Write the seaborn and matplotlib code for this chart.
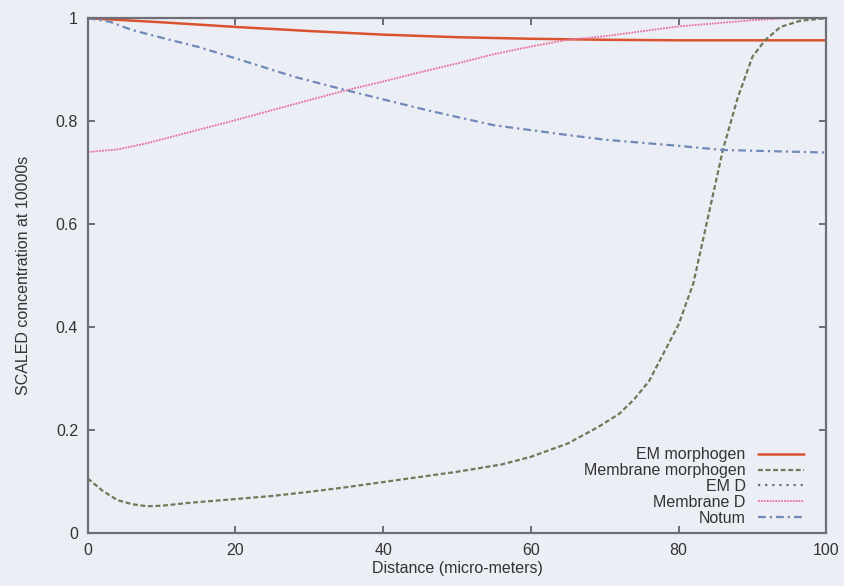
import matplotlib
matplotlib.use("Agg")
import matplotlib.pyplot as plt
import seaborn as sns
import pandas as pd

sns.set_theme(style="white")
plt.rcParams['font.family'] = ['Liberation Sans', 'DejaVu Sans']

# ---- data ----
em_morph_x = [0, 10, 20, 30, 40, 50, 60, 70, 80, 90, 100]
em_morph_y = [1.0, 0.992, 0.983, 0.975, 0.968, 0.963, 0.960, 0.958, 0.957, 0.957, 0.957]

mem_morph_x = [0, 2, 4, 6, 8, 10, 14, 20, 25, 30, 35, 42, 50, 56, 60, 65, 69, 72, 74, 76, 78,
               80, 82, 83.5, 84.5, 86, 88, 90, 91.7, 93.8, 96.5, 100]
mem_morph_y = [0.106, 0.082, 0.064, 0.056, 0.052, 0.053, 0.059, 0.066, 0.072, 0.080, 0.089, 0.103,
               0.119, 0.133, 0.148, 0.174, 0.205, 0.232, 0.26, 0.295, 0.35, 0.405, 0.485, 0.582,
               0.647, 0.744, 0.845, 0.925, 0.957, 0.983, 0.995, 1.0]

em_d_x = [0, 50, 100]
em_d_y = [1.0, 1.0, 1.0]

mem_d_x = [0, 4, 8, 12, 20, 29, 35, 40, 45, 50, 55, 60, 65, 70, 80, 90, 95, 100]
mem_d_y = [0.740, 0.745, 0.757, 0.772, 0.802, 0.837, 0.860, 0.877, 0.895, 0.912, 0.930, 0.945,
           0.958, 0.965, 0.984, 0.996, 1.0, 1.0]

notum_x = [0, 3, 6, 10, 15, 20, 28, 35, 46, 55, 65, 70, 80, 86, 100]
notum_y = [1.0, 0.993, 0.977, 0.962, 0.944, 0.922, 0.886, 0.860, 0.821, 0.792, 0.773, 0.764,
           0.752, 0.744, 0.739]

labels = ["EM morphogen", "Membrane morphogen", "EM D", "Membrane D", "Notum"]
x_ticks = [0, 20, 40, 60, 80, 100]
y_ticks = [0, 0.2, 0.4, 0.6, 0.8, 1]
y_tick_labels = ["0", "0.2", "0.4", "0.6", "0.8", "1"]

series = [
    (em_morph_x, em_morph_y, dict(color="#d9542e", lw=1.8, ls="-")),
    (mem_morph_x, mem_morph_y, dict(color="#6b7a58", lw=1.6, ls=(0, (2.2, 1.2)))),
    (em_d_x, em_d_y, dict(color="#6a6a84", lw=1.6, ls=(0, (1, 2.2)))),
    (mem_d_x, mem_d_y, dict(color="#e8709c", lw=1.3, ls=(0, (1, 0.6)))),
    (notum_x, notum_y, dict(color="#7088b8", lw=1.6, ls=(0, (3.5, 1.8, 1, 1.8)))),
]

FS = 11.5
bg = "#eceef6"
fig = plt.figure(figsize=(8.44, 5.86), dpi=100, facecolor=bg)
ax = fig.add_axes([0.104, 0.0904, 0.875, 0.8786])
ax.set_facecolor(bg)

for (xs, ys, st), lab in zip(series, labels):
    df = pd.DataFrame({"x": xs, "y": ys})
    sns.lineplot(data=df, x="x", y="y", ax=ax, label=lab, color=st["color"],
                 linewidth=st["lw"], linestyle=st["ls"], estimator=None, sort=True)

ax.set_xlim(0, 100)
ax.set_ylim(0, 1)
ax.set_xticks(x_ticks)
ax.set_xticklabels([str(t) for t in x_ticks])
ax.set_yticks(y_ticks)
ax.set_yticklabels(y_tick_labels)
ax.tick_params(direction="in", length=5, width=1.2, color="#555560",
               top=True, right=True, left=True, bottom=True,
               labelsize=FS, labelcolor="#333333", pad=7)
for sp in ax.spines.values():
    sp.set_color("#6e6e76")
    sp.set_linewidth(1.6)

ax.set_xlabel("Distance (micro-meters)", fontsize=FS, color="#333333", labelpad=2)
ax.set_ylabel("SCALED concentration at 10000s", fontsize=FS, color="#333333", labelpad=18)

leg = ax.legend(loc="lower right", bbox_to_anchor=(0.9697, 0.0144), frameon=False,
                markerfirst=False, fontsize=FS, handlelength=2.9, labelspacing=0.05,
                borderaxespad=0.0, borderpad=0.0, handletextpad=0.75)
for t in leg.get_texts():
    t.set_color("#333333")

fig.savefig("out.png", dpi=100, facecolor=bg)
